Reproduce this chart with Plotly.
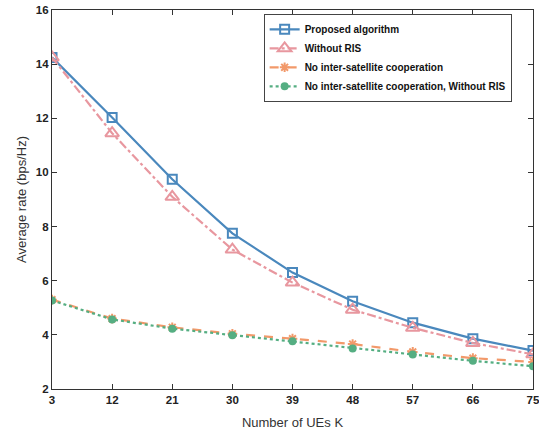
import plotly.graph_objects as go

# Number of UEs K
num_ues = [3, 12, 21, 30, 39, 48, 57, 66, 75]

# Average rate (bps/Hz) for each scheme
proposed = [14.25, 12.03, 9.75, 7.75, 6.3, 5.24, 4.45, 3.86, 3.42]
without_ris = [14.25, 11.45, 9.1, 7.15, 5.93, 4.93, 4.26, 3.7, 3.28]
no_coop = [5.3, 4.6, 4.28, 4.04, 3.86, 3.66, 3.37, 3.14, 3.0]
no_coop_without_ris = [5.27, 4.57, 4.23, 3.99, 3.76, 3.5, 3.27, 3.04, 2.84]

legend_names = [
    "Proposed algorithm",
    "Without RIS",
    "No inter-satellite cooperation",
    "No inter-satellite cooperation, Without RIS",
]

fig = go.Figure()

fig.add_trace(go.Scatter(
    x=num_ues, y=proposed, name=legend_names[0], mode="lines+markers",
    line=dict(color="#4a88bd", width=2.2, dash="solid"),
    marker=dict(symbol="square-open", size=9, color="#4a88bd", line=dict(width=2)),
))
fig.add_trace(go.Scatter(
    x=num_ues, y=without_ris, name=legend_names[1], mode="lines+markers",
    line=dict(color="#e8979f", width=2.2, dash="dashdot"),
    marker=dict(symbol="triangle-up-open", size=12, color="#e8979f", line=dict(width=2)),
))
fig.add_trace(go.Scatter(
    x=num_ues, y=no_coop, name=legend_names[2], mode="lines+markers",
    line=dict(color="#f2996a", width=2.2, dash="dash"),
    marker=dict(symbol="asterisk-open", size=8, color="#f2996a", line=dict(width=2, color="#f2996a")),
))
fig.add_trace(go.Scatter(
    x=num_ues, y=no_coop_without_ris, name=legend_names[3], mode="lines+markers",
    line=dict(color="#55ae82", width=2.2, dash="dot"),
    marker=dict(symbol="circle", size=8, color="#55ae82"),
))

axis_common = dict(
    showgrid=False, zeroline=False, showline=True, mirror="ticks",
    linecolor="#333333", linewidth=1.2, ticks="inside", ticklen=5,
    tickcolor="#333333", automargin=False, ticklabeloverflow="allow",
    tickfont=dict(family="Liberation Sans", size=11.5, color="#222222", weight="bold"),
)

fig.update_layout(
    width=539, height=434,
    margin=dict(l=52, r=6, t=10, b=45),
    paper_bgcolor="white", plot_bgcolor="white",
    font=dict(family="Liberation Sans", color="#222222"),
    xaxis=dict(
        range=[3, 75], tickmode="array", tickvals=num_ues,
        title=dict(text="Number of UEs K", font=dict(size=13, color="#333333"), standoff=12),
        **axis_common,
    ),
    yaxis=dict(
        range=[2, 16], tickmode="array", tickvals=[2, 4, 6, 8, 10, 12, 14, 16],
        title=dict(text="Average rate (bps/Hz)", font=dict(size=13, color="#333333"), standoff=6),
        **axis_common,
    ),
    legend=dict(
        x=0.44, y=0.99, xanchor="left", yanchor="top",
        bgcolor="white", bordercolor="#444444", borderwidth=1,
        font=dict(family="Liberation Sans", size=10, color="#111111", weight="bold"),
        tracegroupgap=0, itemwidth=30,
    ),
    showlegend=True,
)

fig.write_html("out.html")
